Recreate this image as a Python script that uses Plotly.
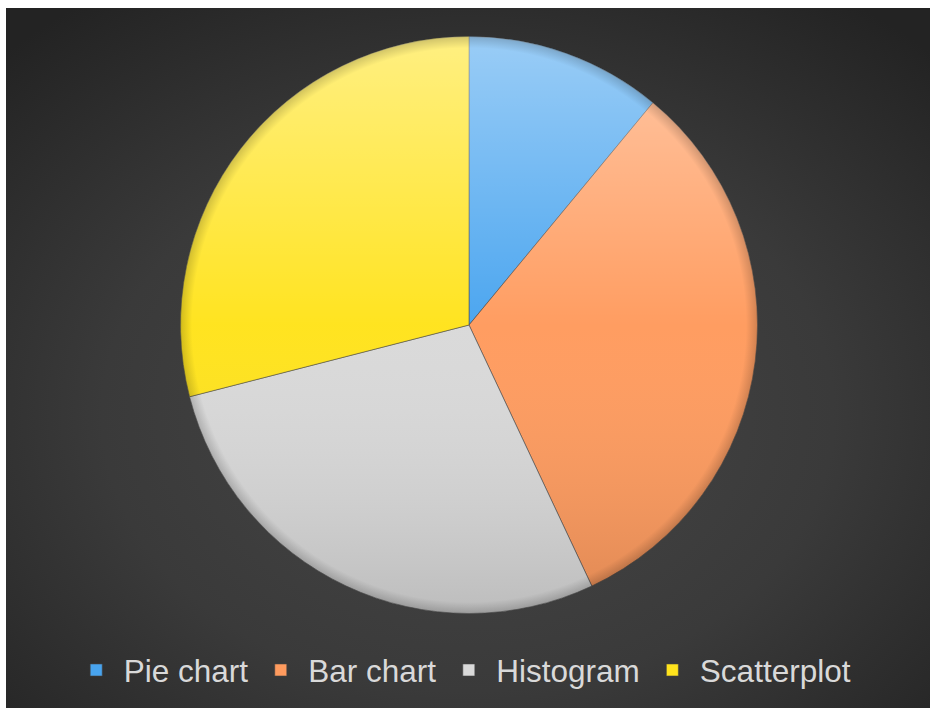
import base64
import plotly.graph_objects as go

# Share of each chart type
categories = ["Pie chart", "Bar chart", "Histogram", "Scatterplot"]
shares = [11, 32, 28, 29]
slice_colors = ["#48a4ef", "#ff9b5e", "#d9d9d9", "#ffe31c"]

W, H = 930, 708
# pie placement in pixels (centre and radius)
CX, CY, R = 469, 325, 288.5


def svg_uri(svg):
    return "data:image/svg+xml;base64," + base64.b64encode(svg.encode()).decode()


# dark radial backdrop for the chart area
bg_svg = (
    '<svg xmlns="http://www.w3.org/2000/svg" width="924" height="700" '
    'preserveAspectRatio="none" viewBox="0 0 924 700">'
    '<defs><radialGradient id="g" cx="50%" cy="58%" r="72%">'
    '<stop offset="0" stop-color="#474747"/>'
    '<stop offset="0.55" stop-color="#3a3a3a"/>'
    '<stop offset="1" stop-color="#232323"/>'
    '</radialGradient></defs>'
    '<rect width="924" height="700" fill="url(#g)"/></svg>'
)

# soft top-light / bottom-shade glaze over the pie disc
glaze_svg = (
    '<svg xmlns="http://www.w3.org/2000/svg" width="200" height="200" viewBox="0 0 200 200">'
    '<defs><linearGradient id="s" x1="0" y1="0" x2="0" y2="1">'
    '<stop offset="0" stop-color="#ffffff" stop-opacity="0.45"/>'
    '<stop offset="0.5" stop-color="#ffffff" stop-opacity="0.02"/>'
    '<stop offset="1" stop-color="#000000" stop-opacity="0.13"/>'
    '</linearGradient>'
    '<radialGradient id="e" cx="50%" cy="50%" r="50%">'
    '<stop offset="0.96" stop-color="#000000" stop-opacity="0"/>'
    '<stop offset="1" stop-color="#000000" stop-opacity="0.18"/>'
    '</radialGradient></defs>'
    '<circle cx="100" cy="100" r="100" fill="url(#s)"/>'
    '<circle cx="100" cy="100" r="100" fill="url(#e)"/></svg>'
)

fig = go.Figure(
    go.Pie(
        labels=categories,
        values=shares,
        sort=False,
        direction="clockwise",
        rotation=0,
        textinfo="none",
        marker=dict(colors=slice_colors, line=dict(color="rgba(70,70,70,0.55)", width=1)),
        domain=dict(
            x=[(CX - R) / W, (CX + R) / W],
            y=[(H - CY - R) / H, (H - CY + R) / H],
        ),
    )
)

fig.update_layout(
    width=W,
    height=H,
    margin=dict(l=0, r=0, t=0, b=0),
    paper_bgcolor="#ffffff",
    showlegend=True,
    legend=dict(
        orientation="h",
        x=0.497,
        xanchor="center",
        y=(H - 670) / H,
        yanchor="middle",
        font=dict(family="Liberation Sans, Arial, sans-serif", size=31.5, color="#d9d9d9"),
        bgcolor="rgba(0,0,0,0)",
        itemwidth=45,
    ),
    images=[
        dict(
            source=svg_uri(bg_svg),
            xref="paper", yref="paper",
            x=6 / W, y=1 - 8 / H,
            sizex=1 - 6 / W, sizey=1 - 8 / H,
            xanchor="left", yanchor="top",
            sizing="stretch",
            layer="below",
        ),
        dict(
            source=svg_uri(glaze_svg),
            xref="paper", yref="paper",
            x=(CX - R) / W, y=1 - (CY - R) / H,
            sizex=2 * R / W, sizey=2 * R / H,
            xanchor="left", yanchor="top",
            sizing="stretch",
            layer="above",
        ),
    ],
)

fig.write_html("out.html")
